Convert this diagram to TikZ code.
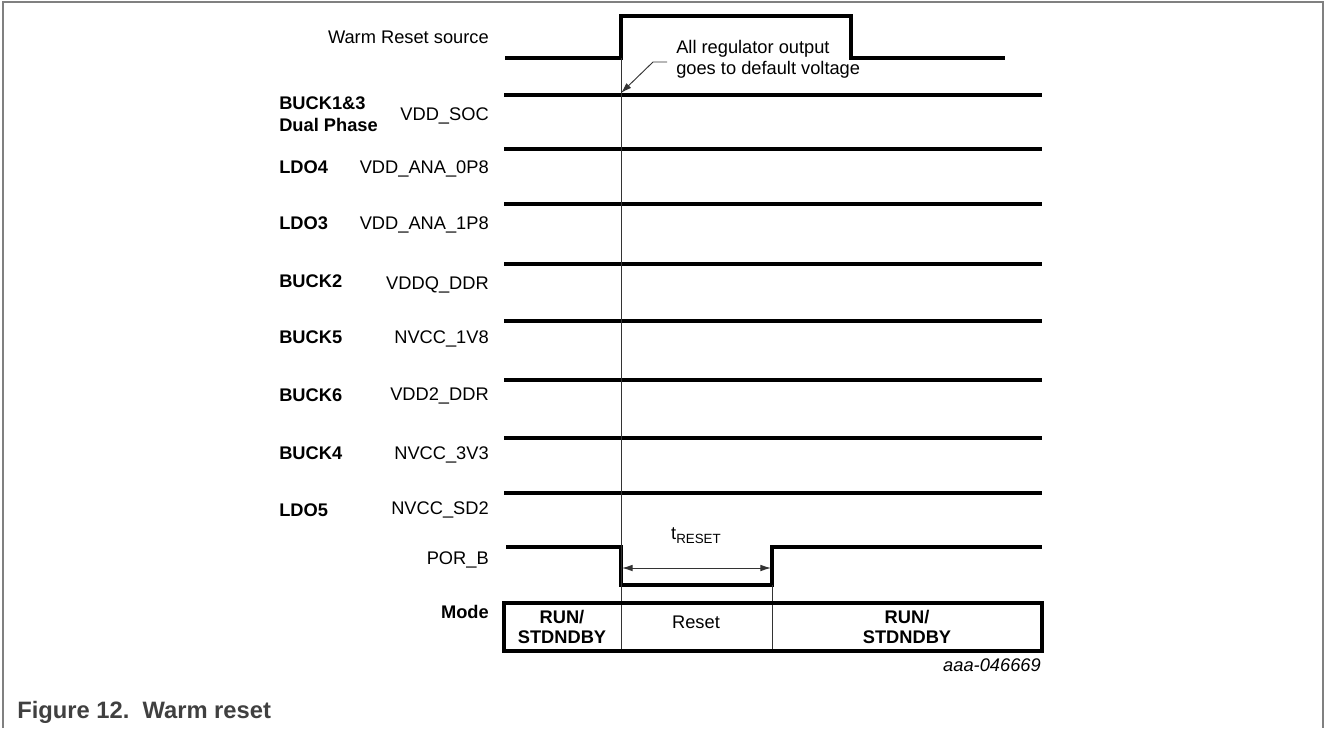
\documentclass[tikz,border=0pt]{standalone}
\usepackage{fontspec}
\setmainfont{Liberation Sans}
\usetikzlibrary{arrows.meta}
\begin{document}
\begin{tikzpicture}[x=0.75pt,y=-0.75pt,
  sig/.style={line width=2.8pt, line join=miter},
  thinline/.style={line width=0.7pt, draw=black!80},
  lbl/.style={font=\fontsize{13.7}{16}\selectfont, inner sep=0pt},
  blbl/.style={font=\fontsize{13.7}{16}\selectfont\bfseries, inner sep=0pt},
  frameline/.style={draw=black!50, line width=1.5pt},
  tip/.style={-{Latex[length=8pt,width=5pt]}}]
\useasboundingbox (0,0) rectangle (1326,728);
% frame
\draw[frameline] (3,728) -- (3,2) -- (1323,2) -- (1323,728);

% Warm reset source
\node[lbl, anchor=base east] (wrs) at (489,43.5) {Warm Reset source};
\draw[sig] (505,58) -- (621,58) -- (621,16) -- (851,16) -- (851,58) -- (1005,58);

% annotation
\node[lbl, anchor=base west] (ann1) at (676,53.5) {All regulator output};
\node[lbl, anchor=base west] (ann2) at (676,74.5) {goes to default voltage};
\coordinate (annS) at (667,62);
\coordinate (annK) at (653,62);
\coordinate (annT) at (621,93);
\draw[thinline, tip] (annS) -- (annK) -- (annT);

% supply rails
\foreach \yy in {95,149,204,264,321,380,438,493}{
  \draw[sig] (504,\yy) -- (1042,\yy);
}

% labels
\node[blbl, anchor=base west] (b13a) at (279,109.5) {BUCK1\&3};
\node[blbl, anchor=base west] (b13b) at (279,131.5) {Dual Phase};
\node[lbl, anchor=base east] (soc) at (489,120.5) {VDD\_SOC};

\node[blbl, anchor=base west] (ldo4) at (279,173.5) {LDO4};
\node[lbl, anchor=base east] (ana08) at (489,173.5) {VDD\_ANA\_0P8};

\node[blbl, anchor=base west] (ldo3) at (279,229.5) {LDO3};
\node[lbl, anchor=base east] (ana18) at (489,229.5) {VDD\_ANA\_1P8};

\node[blbl, anchor=base west] (buck2) at (279,287.5) {BUCK2};
\node[lbl, anchor=base east] (vddq) at (489,289.5) {VDDQ\_DDR};

\node[blbl, anchor=base west] (buck5) at (279,343.5) {BUCK5};
\node[lbl, anchor=base east] (nv18) at (489,343.5) {NVCC\_1V8};

\node[blbl, anchor=base west] (buck6) at (279,401.5) {BUCK6};
\node[lbl, anchor=base east] (vdd2) at (489,400.5) {VDD2\_DDR};

\node[blbl, anchor=base west] (buck4) at (279,459.5) {BUCK4};
\node[lbl, anchor=base east] (nv33) at (489,459.5) {NVCC\_3V3};

\node[blbl, anchor=base west] (ldo5) at (279,516.5) {LDO5};
\node[lbl, anchor=base east] (sd2) at (489,514.5) {NVCC\_SD2};

% POR_B
\node[lbl, anchor=base east] (porb) at (489,564.5) {POR\_B};
\draw[sig] (506,547) -- (621,547) -- (621,585) -- (772,585) -- (772,547) -- (1042,547);

% vertical reference lines
\draw[thinline] (621,58) -- (621,651);
\draw[thinline] (772,585) -- (772,651);

% tRESET
\node[lbl, anchor=base] (tres) at (696,539) {t\raisebox{-0.45ex}{\fontsize{10}{10}\selectfont RESET}};
\coordinate (tL) at (622,568);
\coordinate (tR) at (771,568);
\draw[thinline, {Latex[length=8pt,width=5pt]}-{Latex[length=8pt,width=5pt]}] (tL) -- (tR);

% Mode box
\node[blbl, anchor=base east] (mode) at (489,618.5) {Mode};
\draw[sig] (504,603) rectangle (1042,651);
\node[blbl, anchor=base] (run1a) at (562,623.5) {RUN/};
\node[blbl, anchor=base] (run1b) at (562,643.5) {STDNDBY};
\node[lbl, anchor=base] (reset) at (696,628.5) {Reset};
\node[blbl, anchor=base] (run2a) at (907,623.5) {RUN/};
\node[blbl, anchor=base] (run2b) at (907,643.5) {STDNDBY};

\node[lbl, anchor=base east, font=\fontsize{13.7}{16}\selectfont\itshape] (code) at (1041,671.5) {aaa-046669};

% caption
\node[anchor=base west, inner sep=0pt, text=black!75, font=\fontsize{17.8}{20}\selectfont\bfseries] (cap) at (17,718.5) {Figure 12.\ \ Warm reset};
\end{tikzpicture}
\end{document}
